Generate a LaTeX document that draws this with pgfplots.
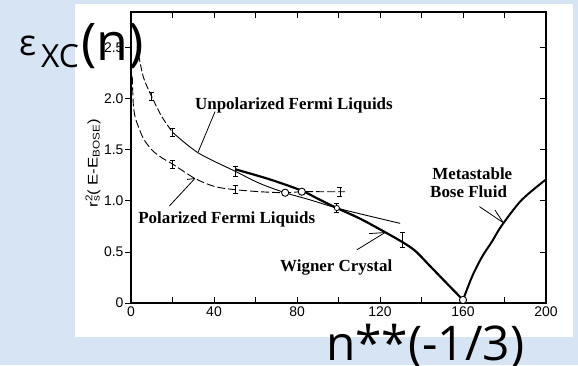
\documentclass[border=0pt]{standalone}
\usepackage{fontspec}
\setmainfont{Liberation Serif}
\newfontfamily\helv{Liberation Sans}
\newfontfamily\slide{Open Sans}
\usepackage{pgfplots}
\pgfplotsset{compat=1.18}
\definecolor{slidebg}{RGB}{214,228,244}

\pgfplotsset{
  frame/.style={
    at={(131bp,62bp)}, anchor=south west, scale only axis,
    width=415bp, height=291bp,
    xmin=0, xmax=200, ymin=0, ymax=2.85,
    axis line style={line width=1.6bp},
    every tick/.style={black, line width=0.8bp},
    major tick length=6bp, minor tick length=6bp,
    ticklabel style={font=\helv\fontsize{14}{14}\selectfont},
    /pgf/number format/assume math mode=true,
    clip=false,
  },
  errmark/.style={black, line width=0.8bp, mark=none, draw=none,
    error bars/.cd, y dir=both, y explicit,
    error bar style={line width=0.8bp},
    error mark options={rotate=90, mark size=2.5bp, line width=0.8bp}},
}

\begin{document}
\begin{tikzpicture}[x=1bp, y=1bp]
\useasboundingbox (0,0) rectangle (578,365);
\fill[slidebg] (0,0) rectangle (578,365);
\fill[white] (75,28) rectangle (573,361);

% left axis: outward ticks with labels
\begin{axis}[frame,
  xtick=\empty,
  ytick={0,0.5,1,1.5,2,2.5}, ytick pos=left, tick align=outside,
  yticklabels={0,0.5,1.0,1.5,2.0,2.5},
  yticklabel style={xshift=2bp},
]
\end{axis}

\begin{axis}[frame,
  tick align=inside,
  xtick={0,40,80,120,160,200}, minor xtick={20,60,100,140,180},
  xtick pos=both,
  ytick={0,0.5,1,1.5,2,2.5}, ytick pos=right, yticklabels={},
]
% unpolarized Fermi liquid
\addplot[black, line width=0.9bp, smooth, dash pattern=on 7bp off 2.5bp]
  coordinates {(3.0,2.52)(3.5,2.45)(6,2.21)(10,2.02)(15,1.82)(20.1,1.67)};
\addplot[black, line width=0.9bp, smooth]
  coordinates {(20.1,1.67)(32.4,1.47)(50.2,1.29)(62.2,1.17)(74.3,1.08)
               (86.3,1.01)(99.2,0.93)(115.2,0.85)(129.7,0.78)};
% polarized Fermi liquid
\addplot[black, line width=0.9bp, smooth, dash pattern=on 8bp off 3bp]
  coordinates {(0.6,2.22)(1.1,1.95)(2,1.82)(3.5,1.73)(6,1.61)(10,1.50)(15,1.42)
               (20.1,1.36)(30.8,1.22)(40.5,1.14)(50.2,1.11)(62,1.09)(74.3,1.08)
               (82.3,1.09)(92,1.09)(100.7,1.09)(103.2,1.09)};
% Wigner crystal
\addplot[black, line width=2.2bp, smooth]
  coordinates {(50.2,1.31)(67,1.21)(82.3,1.10)(91.1,1.01)(99.2,0.93)(110,0.83)
               (120.1,0.72)(130.5,0.60)(137,0.51)(144.2,0.36)(152.3,0.19)(160,0.03)};
% metastable Bose fluid
\addplot[black, line width=2bp, smooth]
  coordinates {(160,0.03)(164.4,0.26)(169.1,0.45)(173.9,0.60)(178.7,0.76)
               (188.3,1.01)(200,1.21)};
% Monte Carlo error bars
\addplot[errmark] coordinates {
  (10,2.02) +- (0,0.04)
  (20.1,1.67) +- (0,0.04)
  (50.2,1.29) +- (0,0.05)
  (20.1,1.36) +- (0,0.04)
  (50.2,1.11) +- (0,0.04)
  (100.7,1.09) +- (0,0.045)
  (99.2,0.93) +- (0,0.045)
  (130.8,0.615) +- (0,0.075)
};
% crossings
\addplot[only marks, mark=*, mark size=3.6bp, mark options={fill=white, draw=black, line width=0.9bp}]
  coordinates {(74.3,1.08)(82.3,1.09)(160,0.03)};
\addplot[only marks, mark=*, mark size=2.6bp, mark options={fill=white, draw=black, line width=0.8bp}]
  coordinates {(99.2,0.93)};

% annotations
\begin{scope}[line width=0.8bp]
\draw (axis cs:40.5,1.875) -- (axis cs:32.4,1.48);
\draw (axis cs:18.5,0.95) -- (axis cs:30.8,1.22);
\draw (axis cs:27.0,1.21) -- (axis cs:30.8,1.22);
\draw (axis cs:108.8,0.52) -- (axis cs:122.4,0.69);
\draw (axis cs:114.8,0.68) -- (axis cs:122.4,0.69);
\draw (axis cs:167.9,0.944) -- (axis cs:179.4,0.787);
\draw (axis cs:175.4,0.91) -- (axis cs:179.4,0.787);
\end{scope}
\begin{scope}[every node/.style={anchor=base west, inner sep=0pt,
    font=\bfseries\fontsize{17}{17}\selectfont}]
\node at (axis cs:30.8,1.892) {Unpolarized Fermi Liquids};
\node at (axis cs:3.4,0.775) {Polarized Fermi Liquids};
\node at (axis cs:71.8,0.307) {Wigner Crystal};
\node at (axis cs:145.1,1.206) {Metastable};
\node at (axis cs:144.1,1.03) {Bose Fluid};
\end{scope}
\end{axis}

% y-axis label
\node[rotate=90, inner sep=0pt, font=\helv\fontsize{14}{14}\selectfont]
  at (93,202) {\scalebox{1.2}[1]{r\rlap{\textsuperscript{2}}\textsubscript{s}( E-E\textsubscript{BOSE})}};

% slide captions
\node[anchor=base west, inner sep=0pt, font=\slide\fontsize{36}{36}\selectfont] at (19,310) {ε};
\node[anchor=base west, inner sep=0pt, font=\slide\fontsize{32}{32}\selectfont] at (41,298) {XC};
\node[anchor=base west, inner sep=0pt, font=\slide\fontsize{52}{52}\selectfont] at (81,305) {(n)};
\node[anchor=base west, inner sep=0pt, font=\slide\fontsize{48}{48}\selectfont] at (326,5) {n**(-1/3)};
\end{tikzpicture}
\end{document}
